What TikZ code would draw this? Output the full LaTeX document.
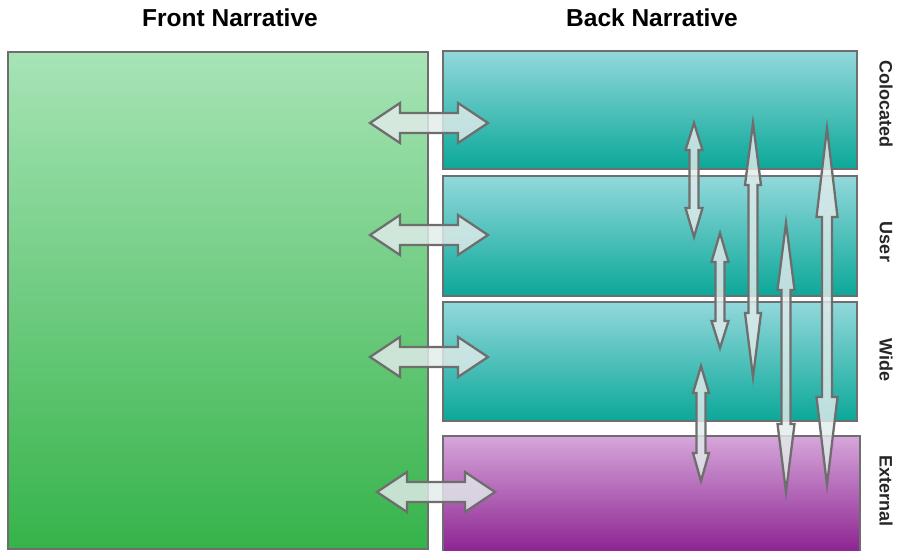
\documentclass[tikz,border=0pt]{standalone}
\usepackage{fontspec}
\setmainfont{Liberation Sans}
\begin{document}
\definecolor{frameGray}{HTML}{6E6E6E}
\definecolor{greenTop}{HTML}{A7E4B6}
\definecolor{greenBot}{HTML}{36B34A}
\definecolor{tealTop}{HTML}{92D8DB}
\definecolor{tealBot}{HTML}{0BA899}
\definecolor{plumTop}{HTML}{D6A6DA}
\definecolor{plumBot}{HTML}{8A1F8F}
\definecolor{arrowFill}{HTML}{E2EBEB}
\tikzset{
  panel/.style={draw=frameGray, line width=2pt, rectangle, anchor=north west, inner sep=0pt},
  frontpanel/.style={panel, top color=greenTop, bottom color=greenBot},
  tealpanel/.style={panel, top color=tealTop, bottom color=tealBot},
  plumpanel/.style={panel, top color=plumTop, bottom color=plumBot},
  heading/.style={font=\bfseries\fontsize{24.5}{24.5}\selectfont, text=black},
  sidelabel/.style={font=\bfseries\fontsize{18}{18}\selectfont, text=black!85, rotate=-90},
  fatarrow/.style={draw=frameGray, line width=2.3pt, fill=arrowFill, fill opacity=0.82, line join=miter}
}
% horizontal two-headed block arrow: left tip x, right tip x, centre y
\newcommand\hfat[3]{%
  \draw[fatarrow] (#1,#3) -- (#1+30,#3-20) -- (#1+30,#3-10) -- (#2-30,#3-10) -- (#2-30,#3-20)
    -- (#2,#3) -- (#2-30,#3+20) -- (#2-30,#3+10) -- (#1+30,#3+10) -- (#1+30,#3+20) -- cycle;}
% vertical two-headed block arrow: x, top tip, top head base, bottom head base, bottom tip,
% head half width, shaft half width
\newcommand\vfat[7]{%
  \draw[fatarrow] (#1,#2) -- (#1+#6,#3) -- (#1+#7,#3) -- (#1+#7,#4) -- (#1+#6,#4) -- (#1,#5)
    -- (#1-#6,#4) -- (#1-#7,#4) -- (#1-#7,#3) -- (#1-#6,#3) -- cycle;}
\begin{tikzpicture}[x=1pt,y=-1pt]
\useasboundingbox (0,0) rectangle (897,550);

% titles
\node[heading] (fronttitle) at (230,18) {Front Narrative};
\node[heading] (backtitle) at (652,18) {Back Narrative};

% panels
\node[frontpanel, minimum width=420pt, minimum height=497pt] (front) at (7,51) {};
\node[tealpanel, minimum width=414pt, minimum height=118pt] (colocated) at (442,50) {};
\node[tealpanel, minimum width=414pt, minimum height=120pt] (user) at (442,175) {};
\node[tealpanel, minimum width=414pt, minimum height=119pt] (wide) at (442,301) {};
\node[plumpanel, minimum width=417pt, minimum height=120pt] (external) at (442,435) {};

% layer labels
\node[sidelabel] (lcolocated) at (886,104) {Colocated};
\node[sidelabel] (luser) at (886,242) {User};
\node[sidelabel] (lwide) at (886,360) {Wide};
\node[sidelabel] (lexternal) at (886,491) {External};

% links between the front and each back layer
\hfat{370}{488}{123}
\hfat{370}{488}{235}
\hfat{370}{488}{357}
\hfat{377}{495}{492}

% links between the back layers
\vfat{694}{123}{150}{208}{237}{8.5}{4.5}
\vfat{753}{123}{185}{313}{377}{8}{4.5}
\vfat{827}{128}{217}{397}{485}{10.5}{5}
\vfat{720}{233}{262}{321}{348}{8.5}{4.5}
\vfat{786}{223}{290}{424}{492}{8.5}{4.5}
\vfat{701}{366}{393}{453}{481}{8}{4.5}
\end{tikzpicture}
\end{document}
